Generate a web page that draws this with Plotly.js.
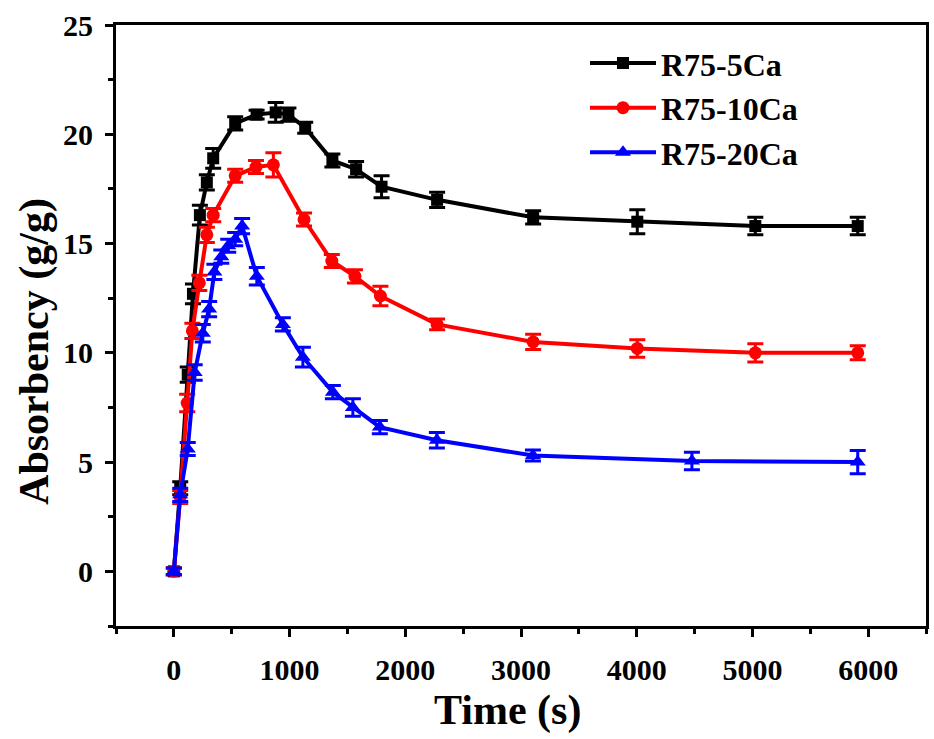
<!DOCTYPE html>
<html>
<head>
<meta charset="utf-8">
<script src="https://cdn.plot.ly/plotly-3.0.1.min.js"></script>
<style>
  html, body { margin: 0; padding: 0; background: #fff; }
  #chart { width: 934px; height: 739px; }
</style>
</head>
<body>
<div id="chart"></div>
<script>
// R75-5Ca
var t_5ca   = [0, 55, 120, 165, 225, 285, 340, 530, 715, 880, 990, 1135, 1370, 1575, 1795, 2275, 3105, 4005, 5025, 5910];
var abs_5ca = [0, 3.8, 9.0, 12.7, 16.3, 17.8, 18.9, 20.5, 20.9, 21.0, 20.9, 20.3, 18.8, 18.4, 17.6, 17.0, 16.2, 16.0, 15.8, 15.8];
var err_5ca = [0.15, 0.3, 0.35, 0.45, 0.45, 0.35, 0.45, 0.3, 0.2, 0.45, 0.3, 0.25, 0.3, 0.35, 0.5, 0.35, 0.3, 0.55, 0.4, 0.4];

// R75-10Ca
var t_10ca   = [0, 55, 115, 160, 220, 285, 340, 530, 710, 860, 1125, 1365, 1565, 1785, 2275, 3105, 4005, 5025, 5910];
var abs_10ca = [0, 3.4, 7.7, 11.0, 13.2, 15.4, 16.3, 18.1, 18.5, 18.6, 16.1, 14.2, 13.5, 12.6, 11.3, 10.5, 10.2, 10.0, 10.0];
var err_10ca = [0.15, 0.3, 0.4, 0.35, 0.35, 0.35, 0.3, 0.3, 0.3, 0.55, 0.3, 0.3, 0.3, 0.45, 0.25, 0.35, 0.4, 0.42, 0.32];

// R75-20Ca
var t_20ca   = [0, 55, 120, 180, 250, 305, 350, 410, 470, 530, 590, 717, 942, 1115, 1374, 1547, 1780, 2273, 3103, 4477, 5910];
var abs_20ca = [0, 3.5, 5.6, 9.1, 10.9, 12.0, 13.7, 14.4, 14.9, 15.2, 15.8, 13.5, 11.3, 9.8, 8.2, 7.5, 6.6, 6.0, 5.3, 5.05, 5.0];
var err_20ca = [0.15, 0.3, 0.3, 0.35, 0.4, 0.35, 0.35, 0.3, 0.3, 0.3, 0.35, 0.4, 0.3, 0.45, 0.3, 0.4, 0.3, 0.35, 0.25, 0.4, 0.53];

var names  = ['R75-5Ca', 'R75-10Ca', 'R75-20Ca'];
var colors = ['#000000', '#ff0000', '#0000ff'];
var x_ticks = [0, 1000, 2000, 3000, 4000, 5000, 6000];
var y_ticks = [0, 5, 10, 15, 20, 25];

var FONT = '"Liberation Serif", "Times New Roman", serif';

function make_trace(x, y, err, name, color, symbol, size) {
    return {
        type: 'scatter',
        mode: 'lines+markers',
        x: x,
        y: y,
        name: name,
        line: { color: color, width: 4 },
        marker: { symbol: symbol, size: size, color: color },
        error_y: {
            type: 'data',
            array: err,
            visible: true,
            color: color,
            thickness: 3,
            width: 8
        }
    };
}

var data = [
    make_trace(t_5ca, abs_5ca, err_5ca, names[0], colors[0], 'square', 12),
    make_trace(t_10ca, abs_10ca, err_10ca, names[1], colors[1], 'circle', 13),
    make_trace(t_20ca, abs_20ca, err_20ca, names[2], colors[2], 'triangle-up', 14)
];

var layout = {
    width: 934,
    height: 739,
    margin: { l: 116, r: 8, t: 25, b: 113 },
    paper_bgcolor: '#ffffff',
    plot_bgcolor: '#ffffff',
    font: { family: FONT, color: '#000', size: 30, weight: 'bold' },
    showlegend: true,
    legend: {
        x: 0.579,
        y: 0.982,
        xanchor: 'left',
        yanchor: 'top',
        bgcolor: 'rgba(0,0,0,0)',
        font: { family: FONT, size: 32, color: '#000', weight: 'bold' },
        itemwidth: 66,
        tracegroupgap: 0
    },
    xaxis: {
        range: [-500, 6500],
        tickvals: x_ticks,
        ticks: 'outside',
        ticklen: 8,
        tickwidth: 3,
        tickcolor: '#000',
        ticklabelstandoff: 7,
        minor: { dtick: 500, tick0: 0, ticks: 'outside', ticklen: 5, tickwidth: 3, tickcolor: '#000' },
        showline: true,
        linewidth: 3,
        linecolor: '#000',
        mirror: true,
        showgrid: false,
        zeroline: false,
        tickfont: { family: FONT, size: 30, weight: 'bold' }
    },
    yaxis: {
        range: [-2.5, 25],
        tickvals: y_ticks,
        ticks: 'outside',
        ticklen: 8,
        tickwidth: 3,
        tickcolor: '#000',
        ticklabelstandoff: 6,
        minor: { dtick: 2.5, tick0: 0, ticks: 'outside', ticklen: 5, tickwidth: 3, tickcolor: '#000' },
        showline: true,
        linewidth: 3,
        linecolor: '#000',
        mirror: true,
        showgrid: false,
        zeroline: false,
        tickfont: { family: FONT, size: 30, weight: 'bold' }
    },
    annotations: [
        {
            text: 'Time (s)',
            xref: 'paper', yref: 'paper',
            x: 0.483, y: -0.14,
            xanchor: 'center', yanchor: 'middle',
            showarrow: false,
            font: { family: FONT, size: 42, weight: 'bold', color: '#000' }
        },
        {
            text: 'Absorbency (g/g)',
            xref: 'paper', yref: 'paper',
            x: -0.1, y: 0.456,
            xanchor: 'center', yanchor: 'middle',
            textangle: -90,
            showarrow: false,
            font: { family: FONT, size: 42, weight: 'bold', color: '#000' }
        }
    ]
};

var config = { displayModeBar: false, staticPlot: true };
Plotly.newPlot('chart', data, layout, config);
</script>
</body>
</html>
